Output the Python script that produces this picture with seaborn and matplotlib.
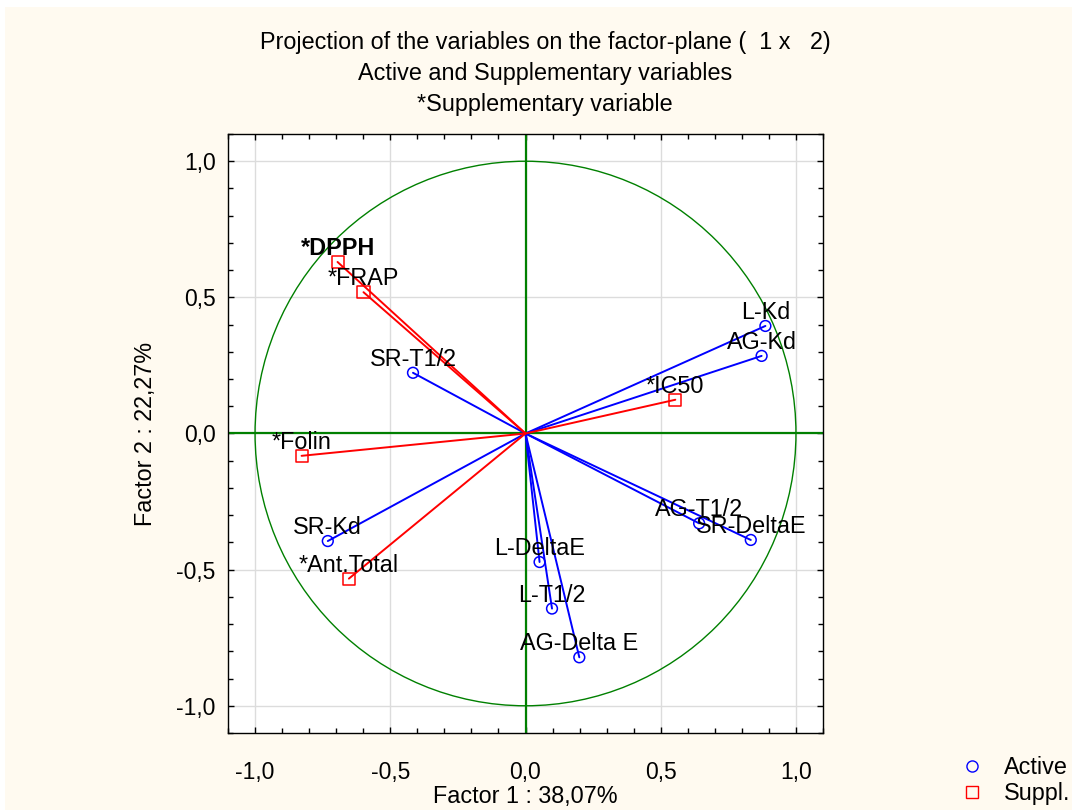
import pandas as pd
import seaborn as sns
import matplotlib.pyplot as plt
from matplotlib.lines import Line2D
from matplotlib.patches import Circle, Rectangle
from matplotlib.ticker import MultipleLocator, FuncFormatter

# loadings on factor 1 / factor 2
active_names = ["L-Kd", "AG-Kd", "SR-T1/2", "SR-Kd", "L-DeltaE", "L-T1/2",
                "AG-Delta E", "AG-T1/2", "SR-DeltaE"]
active_f1 = [0.887, 0.873, -0.416, -0.731, 0.052, 0.098, 0.199, 0.642, 0.833]
active_f2 = [0.395, 0.285, 0.223, -0.395, -0.472, -0.643, -0.822, -0.330, -0.391]

suppl_names = ["*DPPH", "*FRAP", "*IC50", "*Folin", "*Ant.Total"]
suppl_f1 = [-0.695, -0.599, 0.554, -0.828, -0.653]
suppl_f2 = [0.630, 0.519, 0.124, -0.082, -0.533]

title_lines = ["Projection of the variables on the factor-plane (  1 x   2)",
               "Active and Supplementary variables",
               "*Supplementary variable"]

sns.set_theme(style="ticks")
plt.rcParams["font.family"] = ["Liberation Sans", "DejaVu Sans"]
plt.rcParams["text.color"] = "black"
plt.rcParams["axes.labelcolor"] = "black"
plt.rcParams["xtick.color"] = "black"
plt.rcParams["ytick.color"] = "black"

FS = 16.8

active = pd.DataFrame({"f1": active_f1, "f2": active_f2, "name": active_names})
suppl = pd.DataFrame({"f1": suppl_f1, "f2": suppl_f2, "name": suppl_names})

fig = plt.figure(figsize=(10.72, 8.10), dpi=100, facecolor="white")
fig.add_artist(Rectangle((5 / 1072, 0), 1, 1 - 7 / 810, transform=fig.transFigure,
                         facecolor="#FFFAF0", edgecolor="none", zorder=-10))
ax = fig.add_axes([228 / 1072, 1 - 733 / 810, 595 / 1072, 599 / 810])
ax.set_facecolor("white")

ax.set_xlim(-1.1, 1.1)
ax.set_ylim(-1.1, 1.1)
for a in (ax.xaxis, ax.yaxis):
    a.set_major_locator(MultipleLocator(0.5))
    a.set_minor_locator(MultipleLocator(0.1))
    a.set_major_formatter(FuncFormatter(lambda v, p: f"{v:.1f}".replace(".", ",")))
ax.grid(True, which="major", color="#DCDCDC", lw=1)
ax.set_axisbelow(True)
ax.tick_params(which="both", direction="in", top=True, right=True, labelsize=16.5)
ax.tick_params(which="major", length=4, width=1)
ax.tick_params(which="minor", length=3.5, width=1)
ax.tick_params(axis="x", pad=20)
ax.tick_params(axis="y", pad=9)
for s in ax.spines.values():
    s.set_color("black")
    s.set_linewidth(1)

# unit circle and axes
ax.add_patch(Circle((0, 0), 1, fill=False, color="#008000", lw=1, zorder=2))
ax.axhline(0, color="#008000", lw=1.6, zorder=2)
ax.axvline(0, color="#008000", lw=1.6, zorder=2)

# vectors
for x, y in zip(active_f1, active_f2):
    ax.plot([0, x], [0, y], color="#0000FF", lw=1.4, zorder=3)
for x, y in zip(suppl_f1, suppl_f2):
    ax.plot([0, x], [0, y], color="#FF0000", lw=1.4, zorder=3)

sns.scatterplot(data=active, x="f1", y="f2", ax=ax, marker="o", s=60,
                facecolor="none", edgecolor="#0000FF", linewidth=1.1, zorder=4)
sns.scatterplot(data=suppl, x="f1", y="f2", ax=ax, marker="s", s=75,
                facecolor="none", edgecolor="#FF0000", linewidth=1.1, zorder=4)

for df in (active, suppl):
    for _, r in df.iterrows():
        ax.annotate(r["name"], (r["f1"], r["f2"]), xytext=(0, 7),
                    textcoords="offset pixels", ha="center", va="baseline",
                    fontsize=FS, color="black", zorder=5,
                    fontweight="bold" if r["name"] == "*DPPH" else "normal")

ax.set_xlabel("Factor 1 : 38,07%", fontsize=FS, labelpad=1)
ax.set_ylabel("Factor 2 : 22,27%", fontsize=FS, labelpad=14)

for i, t in enumerate(title_lines):
    fig.text(545 / 1072, 1 - (42 + 31.5 * i) / 810, t, ha="center", va="center",
             fontsize=FS)

handles = [Line2D([], [], ls="none", marker="o", mfc="none", mec="#0000FF", ms=8),
           Line2D([], [], ls="none", marker="s", mfc="none", mec="#FF0000", ms=8)]
fig.legend(handles, ["Active", "Suppl."], loc="lower right",
           bbox_to_anchor=(1.009, -0.0085), frameon=False, fontsize=FS,
           handletextpad=0.35, labelspacing=0.15, borderaxespad=0.1)

fig.savefig("out.png", dpi=100, facecolor=fig.get_facecolor())
